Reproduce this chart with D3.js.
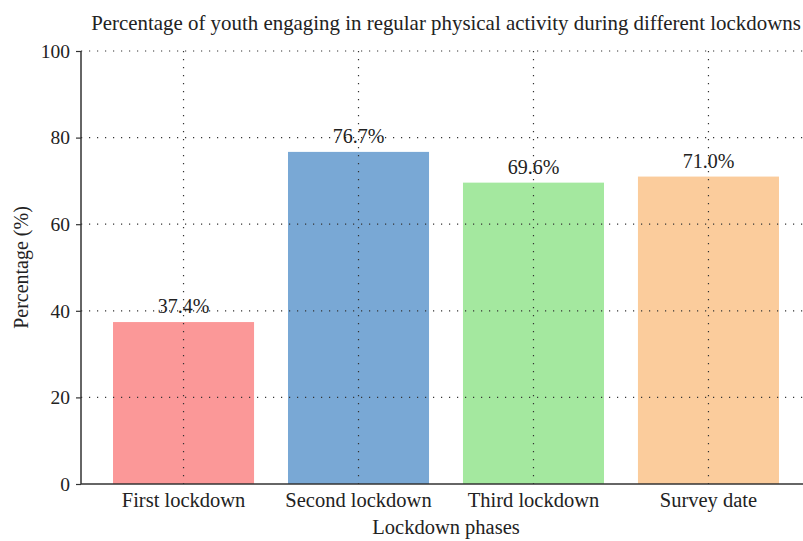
<!DOCTYPE html>
<html>
<head>
<meta charset="utf-8">
<script src="https://d3js.org/d3.v7.min.js"></script>
<style>
  body { margin: 0; background: #fff; }
  text { font-family: "Liberation Serif", "DejaVu Serif", serif; fill: #222; }
</style>
</head>
<body>
<div id="chart"></div>
<script>
// data
var phases = ["First lockdown", "Second lockdown", "Third lockdown", "Survey date"];
var percents = [37.4, 76.7, 69.6, 71.0];
var barColors = ["#fb9898", "#79a8d5", "#a4e89f", "#fbcc9c"];
var yTicks = [0, 20, 40, 60, 80, 100];

var W = 803, H = 541;
var margin = { top: 51, right: -8, bottom: 57, left: 81 };
var width = W - margin.left - margin.right,
    height = H - margin.top - margin.bottom;

var svg = d3.select("#chart").append("svg")
    .attr("width", W).attr("height", H);
var g = svg.append("g")
    .attr("transform", "translate(" + margin.left + "," + margin.top + ")");

var x = d3.scaleBand().domain(phases).range([0, width])
    .paddingInner(0.194).paddingOuter(0.183);
var y = d3.scaleLinear().domain([0, 100]).range([height, 0]);

// bars
g.selectAll(".bar").data(phases).enter().append("rect")
    .attr("x", function (d) { return x(d); })
    .attr("width", x.bandwidth())
    .attr("y", function (d, i) { return y(percents[i]); })
    .attr("height", function (d, i) { return height - y(percents[i]); })
    .style("fill", function (d, i) { return barColors[i]; });

// dotted grid on top of bars
g.selectAll(".hgrid").data(yTicks.slice(1)).enter().append("line")
    .attr("x1", 0).attr("x2", W - margin.left)
    .attr("y1", function (d) { return y(d); }).attr("y2", function (d) { return y(d); })
    .style("stroke", "#333").style("stroke-width", 1.2)
    .style("stroke-dasharray", "1.2,6.8");
g.selectAll(".vgrid").data(phases).enter().append("line")
    .attr("x1", function (d) { return x(d) + x.bandwidth() / 2; })
    .attr("x2", function (d) { return x(d) + x.bandwidth() / 2; })
    .attr("y1", 0).attr("y2", height)
    .style("stroke", "#333").style("stroke-width", 1.2)
    .style("stroke-dasharray", "1.2,6.8");

// value labels
g.selectAll(".lbl").data(phases).enter().append("text")
    .attr("x", function (d) { return x(d) + x.bandwidth() / 2; })
    .attr("y", function (d, i) { return y(percents[i]) - 9; })
    .attr("text-anchor", "middle")
    .style("font-size", "20px")
    .text(function (d, i) { return percents[i].toFixed(1) + "%"; });

// y axis
var yAxis = g.append("g").call(d3.axisLeft(y).tickValues(yTicks).tickSize(5).tickPadding(6));
yAxis.select(".domain").attr("d", "M0," + height + "V0").style("stroke", "#333").style("stroke-width", 1.5);
yAxis.selectAll(".tick line").style("stroke", "#333").style("stroke-width", 1.2);
yAxis.selectAll("text").style("font-size", "19.5px");

// x axis
var xAxis = g.append("g").attr("transform", "translate(0," + height + ")")
    .call(d3.axisBottom(x).tickSize(0).tickPadding(8));
xAxis.select(".domain").attr("d", "M0,0H" + (W - margin.left)).style("stroke", "#333").style("stroke-width", 1.5);
xAxis.selectAll("text").style("font-size", "20.5px");

// titles
svg.append("text")
    .attr("x", margin.left + width / 2).attr("y", 30)
    .attr("text-anchor", "middle").style("font-size", "20.9px")
    .text("Percentage of youth engaging in regular physical activity during different lockdowns");

svg.append("text")
    .attr("x", margin.left + width / 2).attr("y", 534)
    .attr("text-anchor", "middle").style("font-size", "20.5px")
    .text("Lockdown phases");

svg.append("text")
    .attr("transform", "translate(28," + (margin.top + height / 2) + ") rotate(-90)")
    .attr("text-anchor", "middle").style("font-size", "20px")
    .text("Percentage (%)");
</script>
</body>
</html>
